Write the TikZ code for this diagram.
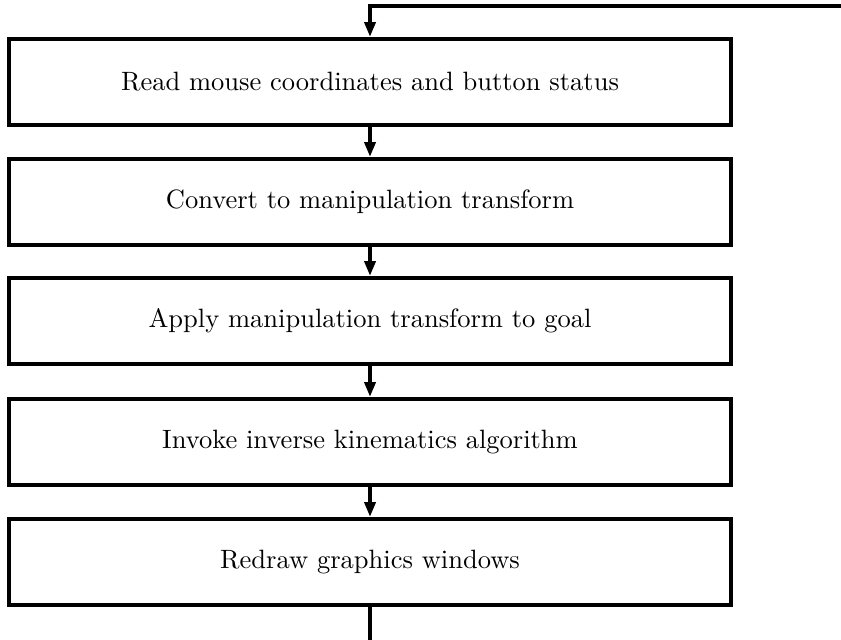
\documentclass[tikz,border=0pt]{standalone}
\usepackage{graphicx}
\usetikzlibrary{arrows.meta}
\newcommand{\boxtxt}[1]{\scalebox{2.65}{\fontsize{10}{12}\selectfont #1}}
\begin{document}
\begin{tikzpicture}[x=1pt,y=-1pt,
  stepbox/.style={draw,line width=4pt,minimum width=722pt,minimum height=86pt,inner sep=0pt},
  flow/.style={line width=4pt,-{Triangle[length=15pt,width=11pt]}},
  plain/.style={line width=4pt}]
\useasboundingbox (0,0) rectangle (841,640);
\node[stepbox] (b1) at (370,82) {\boxtxt{Read mouse coordinates and button status}};
\node[stepbox] (b2) at (370,202) {\boxtxt{Convert to manipulation transform}};
\node[stepbox] (b3) at (370,321) {\boxtxt{Apply manipulation transform to goal}};
\node[stepbox] (b4) at (370,442) {\boxtxt{Invoke inverse kinematics algorithm}};
\node[stepbox] (b5) at (370,562) {\boxtxt{Redraw graphics windows}};
\coordinate (tr) at (841,5.5);
\coordinate (tc) at (370,5.5);
\coordinate (bt) at (370,640);
\draw[flow] (tr) -- (tc) -- (b1.north);
\draw[flow] (b1) -- (b2);
\draw[flow] (b2) -- (b3);
\draw[flow] (b3) -- (b4);
\draw[flow] (b4) -- (b5);
\draw[plain] (b5) -- (bt);
\end{tikzpicture}
\end{document}
